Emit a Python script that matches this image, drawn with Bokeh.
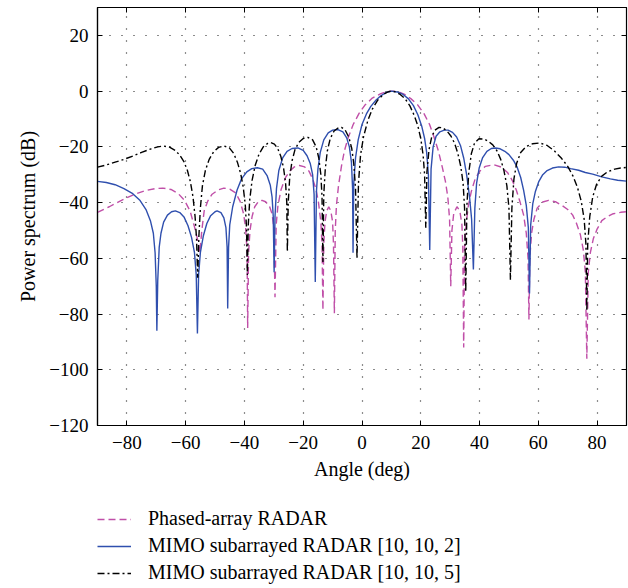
from bokeh.plotting import figure
from bokeh.layouts import column
from bokeh.models import Legend, LegendItem, LinearAxis, FixedTicker, CustomJSTickFormatter
from bokeh.embed import file_html
from bokeh.resources import INLINE

# ---- data ----
phased_angle = [-90, -86, -82, -78, -74, -70.5, -67.8, -65, -62.5, -60.4, -58.5, -57, -56, -55.2,
                -54.5, -53.7, -52.5, -51, -49, -47, -45, -43, -41.5, -40.3, -39.6, -39.1, -38.9,
                -38.6, -38.1, -37.4, -36.5, -35.2, -34, -32.8, -31.5, -30.6, -30, -29.6, -29.2,
                -28.6, -27.5, -26, -24.5, -23, -21.3, -19.5, -18, -16.8, -15.7, -14.8, -14, -13.6,
                -13.3, -13, -12.6, -12, -11.3, -10.6, -10, -9.7, -9.4, -9.1, -8.7, -8, -7, -6,
                -4.8, -3, -1, 1, 3.5, 6.4, 8.5, 10.4, 12.5, 14.5, 16.6, 19, 21.1, 23, 24.5, 26,
                27.3, 28.4, 29.2, 29.8, 30.2, 30.6, 31.2, 32.3, 33.3, 34, 34.3, 34.6, 34.9, 35.4,
                36.2, 37.2, 38.5, 40, 42, 44.8, 47.5, 49.5, 51.1, 52.5, 53.7, 55, 55.9, 56.5, 56.8,
                57.1, 57.7, 58.5, 59.6, 61.5, 63.5, 65.8, 68, 70, 71.7, 73, 74.3, 75.3, 76, 76.5,
                77, 77.7, 78.7, 80, 81.6, 83.5, 85.5, 88, 90]
phased_db = [-43.5, -41.5, -39.3, -37.3, -35.8, -35, -34.8, -35.3, -36.8, -39.2, -43, -48.7, -53, -58,
             -50, -43, -39.5, -37, -35.5, -34.8, -35.2, -36.5, -39.5, -44, -49, -58, -85,
             -58, -50, -45, -41.5, -39.6, -39.2, -39.7, -41.3, -44, -49, -74, -48,
             -41, -35.2, -31, -28.6, -27.2, -26.7, -27.2, -28.8, -31.5, -35, -40, -47, -55,
             -78.6, -55, -47, -43, -41.5, -43, -47, -55, -79.7, -50, -41, -34, -27, -21.5,
             -17, -12, -8, -5, -2.5, -0.9, -0.2, 0, -0.3, -1.2, -2.7, -5, -8.1, -12, -16.5, -21.5,
             -27.2, -32.5, -38, -46, -70, -50, -44, -41.5, -43, -48, -56, -92, -56, -48,
             -41, -36, -31.5, -28.8, -27, -26.4, -27.3, -29.2, -32, -35.5, -39.5, -44.5, -51, -60, -82,
             -60, -51, -46, -42, -39.8, -39.2, -39.7, -41, -42.5, -44.5, -47.5, -51.5, -57, -65, -96,
             -65, -58, -53, -49.5, -46.5, -45, -44, -43.5, -43.3]

mimo2_angle = [-90, -87, -84, -81, -78, -75.5, -73.5, -72, -71, -70.4, -70, -69.8, -69.5, -69,
               -68.4, -67.5, -66.2, -64.8, -63.5, -62, -60.5, -59.2, -58, -57, -56.4, -56, -55.6,
               -55, -54, -52.8, -51.5, -50, -49.3, -48, -47, -46.3, -45.9, -45.7, -45.4, -45, -44,
               -42.5, -41, -39.2, -37.5, -35.6, -33.8, -32.3, -31.2, -30.6, -30.2, -29.9, -29.6,
               -29.1, -28.3, -27, -25.5, -23.8, -21.8, -20, -18.7, -17.6, -16.8, -16.3, -15.9,
               -15.5, -15, -14.2, -13, -11.5, -10, -8.2, -6.5, -5.2, -4.3, -3.6, -3.2, -3.05,
               -2.8, -2.2, -1.3, 0, 1.5, 3, 4.8, 6.5, 8.2, 10, 12, 14, 15.8, 17.5, 19, 20.3, 21.3,
               22, 22.6, 23.05, 23.5, 24.2, 25.2, 26.5, 28, 29.3, 30.8, 32.2, 33.5, 34.6, 35.6,
               36.6, 37.3, 37.9, 38.4, 39, 39.9, 41, 42.5, 44, 45.4, 47, 48.6, 50, 51.5, 52.8, 54,
               55, 55.9, 56.6, 57, 57.4, 58.1, 59, 60.1, 61.5, 63, 64.8, 66.9, 69, 71, 73.7, 76,
               78.5, 81.6, 84.5, 87, 90]
mimo2_db = [-32.4, -32.8, -33.6, -35, -36.8, -39.3, -42.5, -46.5, -51, -58, -70, -86, -68, -56,
            -51, -47, -44.5, -43.3, -43, -43.6, -45.3, -48.3, -52.5, -58, -66, -87, -66,
            -58, -52, -47.5, -44.7, -43.3, -43, -43.6, -45.5, -49, -56, -78, -56, -48, -41.5,
            -35.5, -31.5, -29, -27.8, -27.5, -28, -30.3, -33.8, -38, -45, -65, -45,
            -35, -28.5, -24, -21.6, -20.6, -20.4, -21.3, -23.2, -26, -30, -37, -68.5,
            -36, -28, -22, -17.5, -15, -14, -13.8, -14.6, -16.8, -20, -25.5, -35, -58,
            -33, -24, -17.5, -12, -8.2, -5.5, -3.2, -1.6, -0.5, 0, -0.3, -1.2, -2.8, -5.2, -8.5, -12.5, -17,
            -22, -30, -57, -28, -20, -16.2, -14.6, -14, -14, -14.8, -16.5, -19.5, -24, -30,
            -38, -46, -64, -42, -33, -27.5, -24, -21.6, -20.6, -20.4, -20.7, -21.6, -22.8, -24.8, -27.3, -31,
            -35.6, -41, -49, -72.6, -48, -40.5, -36, -32.6, -30, -28.5, -27.6, -27.2, -27.3, -27.8, -28.4, -29.2,
            -29.8, -30.8, -31.5, -32, -32.3]

mimo5_angle = [-90, -87, -84, -81, -78, -75, -72, -69.5, -67.6, -65.5, -63.5, -62, -60.6, -59.4,
               -58.4, -57.5, -56.8, -56.3, -55.9, -55.5, -55, -54.3, -53.3, -52, -50.5, -48.8, -47,
               -45.2, -43.7, -42.4, -41.3, -40.4, -39.7, -39.3, -39, -38.7, -38.2, -37.4, -36.3,
               -35, -33.6, -32, -31, -29.8, -28.6, -27.6, -26.7, -26, -25.6, -25.4, -25.1, -24.6,
               -23.8, -22.8, -21.5, -20, -18.4, -16.8, -15.6, -14.7, -14, -13.6, -13.3, -13, -12.5,
               -11.8, -10.8, -9.5, -8, -7, -5.8, -4.5, -3.5, -2.8, -2.2, -1.7, -1.2, -0.5, 0.5, 2,
               3.5, 5.3, 7.3, 8.8, 10, 11.5, 13, 14.7, 16.3, 17.8, 19, 20, 20.8, 21.3, 21.7, 22.1,
               22.8, 23.7, 24.8, 26.2, 27.5, 29, 30.3, 31.5, 32.6, 33.6, 34.4, 34.9, 35.3, 35.7,
               36.3, 37.2, 38.3, 39.8, 41.5, 43, 44.5, 45.9, 47.2, 48.3, 49.3, 50, 50.5, 51, 51.7,
               52.6, 54, 55.8, 58, 60.5, 63, 65.5, 67.8, 70, 71.8, 73.3, 74.6, 75.6, 76.2, 76.5,
               76.8, 77.5, 78.5, 79.8, 81.6, 83.5, 86, 88, 90]
mimo5_db = [-27.3, -26.5, -25.5, -24.5, -23.3, -22, -20.8, -20, -19.7, -20.1, -21.3, -23, -25.3, -28.5,
            -32.5, -38, -45, -53, -67, -52, -42, -34, -28.5, -24.5, -21.8, -20.2, -19.7,
            -20.3, -22.3, -25.5, -29.5, -34.5, -41, -49, -66, -48, -39, -32, -26.5,
            -22.5, -20, -18.7, -18.5, -19, -20.8, -23.5, -27.5, -33, -40, -57.7, -40, -31,
            -25, -21, -18.4, -17, -16.6, -17.5, -20, -24, -30, -38, -61.3, -37, -28,
            -21.5, -17, -14.3, -13.1, -13, -13.8, -16.5, -20.5, -26, -35, -60, -33, -23, -16.5, -10.5,
            -6.5, -3.3, -1.2, -0.3, 0, -0.3, -1.2, -2.8, -5.3, -8.8, -12.5, -17, -23, -30, -49, -29,
            -21, -16.5, -14, -13, -13.2, -14.4, -16.2, -18.7, -22.3, -27, -33, -42, -72, -41,
            -29.5, -22.5, -18.6, -17.1, -17.2, -18, -19.3, -21.4, -24.5, -28.5, -34, -42, -67.8, -42, -31.5,
            -26, -22, -19.9, -18.9, -18.6, -19.5, -21.5, -24, -27, -30.5, -34.5, -39.5, -46, -55, -79,
            -55, -45, -38, -33.5, -30.5, -29, -28, -27.6, -27.4]

x_ticks = [-80, -60, -40, -20, 0, 20, 40, 60, 80]
y_ticks = [-120, -100, -80, -60, -40, -20, 0, 20]
series_labels = ["Phased-array RADAR", "MIMO subarrayed RADAR [10, 10, 2]",
                 "MIMO subarrayed RADAR [10, 10, 5]"]

FONT = "Liberation Serif"
C_PH, C_M2, C_M5 = "#c04fa8", "#2f4fae", "black"
D_PH, D_M5 = "7 4", "7 3 2 3"

# ---------------- main chart ----------------
p = figure(width=628, height=490, x_range=(-90, 90), y_range=(-120, 30),
           output_backend="svg", toolbar_location=None,
           min_border_left=97, min_border_right=2, min_border_top=7, min_border_bottom=65)
p.background_fill_color = "white"
p.border_fill_color = "white"
p.outline_line_color = "black"
p.outline_line_width = 1.2

def lbl(v):
    return ("\u2212" + str(-v)) if v < 0 else str(v)

for ax, ticks in ((p.xaxis[0], x_ticks), (p.yaxis[0], y_ticks)):
    ax.ticker = FixedTicker(ticks=ticks)
    ax.major_label_overrides = {t: lbl(t) for t in ticks}
    ax.major_label_text_font = FONT
    ax.major_label_text_font_size = "19px"
    ax.major_label_text_color = "black"
    ax.axis_label_text_font = FONT
    ax.axis_label_text_font_size = "20px"
    ax.axis_label_text_font_style = "normal"
    ax.axis_label_text_color = "black"
    ax.major_tick_in = 5
    ax.major_tick_out = 0
    ax.minor_tick_in = 0
    ax.minor_tick_out = 0
    ax.axis_line_color = "black"
    ax.axis_line_width = 1.2
    ax.major_tick_line_color = "black"

p.xaxis.axis_label = "Angle (deg)"
p.yaxis.axis_label = "Power spectrum (dB)"
p.xaxis.major_label_standoff = 10
p.yaxis.major_label_standoff = 9
p.xaxis.axis_label_standoff = 6
p.yaxis.axis_label_standoff = 7

for side, ticks in (("above", x_ticks), ("right", y_ticks)):
    a = LinearAxis(ticker=FixedTicker(ticks=ticks),
                   formatter=CustomJSTickFormatter(code="return ''"),
                   major_label_standoff=0, major_tick_in=5, major_tick_out=0,
                   minor_tick_in=0, minor_tick_out=0, axis_line_color="black",
                   major_tick_line_color="black")
    p.add_layout(a, side)

p.xgrid.ticker = FixedTicker(ticks=x_ticks)
p.ygrid.ticker = FixedTicker(ticks=y_ticks)
p.grid.grid_line_color = "black"
p.grid.grid_line_dash = "1 11"
p.grid.grid_line_width = 1.2
p.grid.grid_line_alpha = 0.9

p.line(phased_angle, phased_db, line_color=C_PH, line_width=1.4, line_dash=D_PH)
p.line(mimo2_angle, mimo2_db, line_color=C_M2, line_width=1.4)
p.line(mimo5_angle, mimo5_db, line_color=C_M5, line_width=1.4, line_dash=D_M5)

# ---------------- legend strip below ----------------
pl = figure(width=628, height=98, x_range=(-90, 90), y_range=(1000, 1001),
            output_backend="svg", toolbar_location=None,
            x_axis_type=None, y_axis_type=None,
            min_border_left=97, min_border_right=2, min_border_top=0, min_border_bottom=0)
pl.outline_line_color = None
pl.grid.visible = False
pl.background_fill_color = "white"
pl.border_fill_color = "white"
l_ph = pl.line(phased_angle, phased_db, line_color=C_PH, line_width=1.4, line_dash=D_PH)
l_m2 = pl.line(mimo2_angle, mimo2_db, line_color=C_M2, line_width=1.4)
l_m5 = pl.line(mimo5_angle, mimo5_db, line_color=C_M5, line_width=1.4, line_dash=D_M5)

legend = Legend(items=[LegendItem(label=series_labels[0], renderers=[l_ph]),
                       LegendItem(label=series_labels[1], renderers=[l_m2]),
                       LegendItem(label=series_labels[2], renderers=[l_m5])],
                location=(0, 4), orientation="vertical")
legend.label_text_font = FONT
legend.label_text_font_size = "20px"
legend.label_text_color = "black"
legend.glyph_width = 34
legend.glyph_height = 20
legend.label_height = 20
legend.label_standoff = 17
legend.spacing = 4
legend.padding = 0
legend.margin = 0
legend.border_line_color = None
legend.background_fill_alpha = 0
pl.add_layout(legend, "center")

layout = column(p, pl, spacing=0)
open("out.html", "w").write(file_html(layout, INLINE))
